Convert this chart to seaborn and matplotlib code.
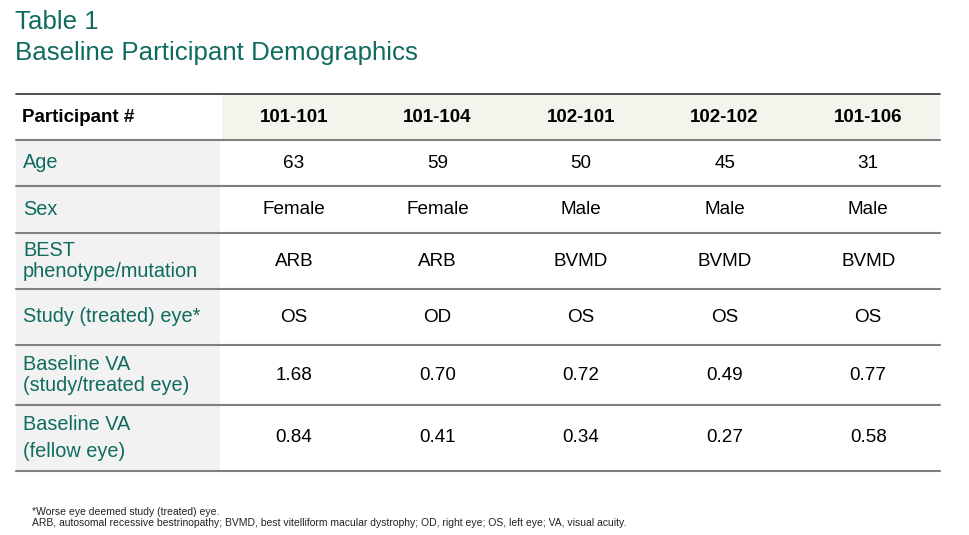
import matplotlib
matplotlib.use("Agg")
import matplotlib.pyplot as plt
import seaborn as sns

sns.set_theme(style="white")
plt.rcParams["font.family"] = ["Liberation Sans", "DejaVu Sans"]

TEAL = "#0f6b5e"

# data
title_lines = ["Table 1", "Baseline Participant Demographics"]
participants = ["101-101", "101-104", "102-101", "102-102", "101-106"]
row_labels = ["Age", "Sex", "BEST\nphenotype/mutation", "Study (treated) eye*",
              "Baseline VA\n(study/treated eye)", "Baseline VA\n(fellow eye)"]
age = ["63", "59", "50", "45", "31"]
sex = ["Female", "Female", "Male", "Male", "Male"]
phenotype = ["ARB", "ARB", "BVMD", "BVMD", "BVMD"]
study_eye = ["OS", "OD", "OS", "OS", "OS"]
va_study = ["1.68", "0.70", "0.72", "0.49", "0.77"]
va_fellow = ["0.84", "0.41", "0.34", "0.27", "0.58"]
rows = [age, sex, phenotype, study_eye, va_study, va_fellow]
footnotes = ["*Worse eye deemed study (treated) eye.",
             "ARB, autosomal recessive bestrinopathy; BVMD, best vitelliform macular dystrophy; "
             "OD, right eye; OS, left eye; VA, visual acuity."]

# layout (pixels)
W, H = 970, 535
left, right = 16, 940
col0_right = 220
col_start = 222
col_w = (right - col_start) / len(participants)
header_top, header_bot = 94, 140
row_edges = [140, 186, 233, 289, 345, 405, 471]

fig = plt.figure(figsize=(W / 100, H / 100), dpi=100)
ax = fig.add_axes([0, 0, 1, 1])
ax.set_xlim(0, W)
ax.set_ylim(H, 0)
ax.axis("off")

# title
ax.text(15, 22, title_lines[0], color=TEAL, fontsize=18.6, va="center", ha="left")
ax.text(15, 53, title_lines[1], color=TEAL, fontsize=18.6, va="center", ha="left")

# header
ax.fill_between([col_start, right], header_top, header_bot, color="#f2f5eb", lw=0)
ax.text(22, (header_top + header_bot) / 2 + 1, "Participant #", fontsize=13.5,
        fontweight="bold", color="black", va="center", ha="left")
for j, p in enumerate(participants):
    cx = col_start + col_w * (j + 0.5)
    ax.text(cx, (header_top + header_bot) / 2 + 1, p, fontsize=13.5, fontweight="bold",
            color="black", va="center", ha="center")

# body
for i, (lab, vals) in enumerate(zip(row_labels, rows)):
    y0, y1 = row_edges[i], row_edges[i + 1]
    ax.fill_between([left, col0_right], y0, y1, color="#f2f2f2", lw=0)
    cy = (y0 + y1) / 2
    ls = 1.5 if i == 5 else 1.1
    ax.text(23, cy, lab, fontsize=14.3, color=TEAL, va="center", ha="left",
            linespacing=ls)
    for j, v in enumerate(vals):
        cx = col_start + col_w * (j + 0.5)
        ax.text(cx, cy, v, fontsize=13.6, color="black", va="center", ha="center")

# rules
ax.plot([left, right], [header_top, header_top], color="#404040", lw=1.3)
for y in row_edges:
    ax.plot([left, right], [y, y], color="#7f7f7f", lw=1.5)

# footnotes
ax.text(32, 512, footnotes[0], fontsize=7.5, color="#222222", va="center", ha="left")
ax.text(32, 523, footnotes[1], fontsize=7.5, color="#222222", va="center", ha="left")

fig.savefig("out.png", dpi=100)
plt.close(fig)
